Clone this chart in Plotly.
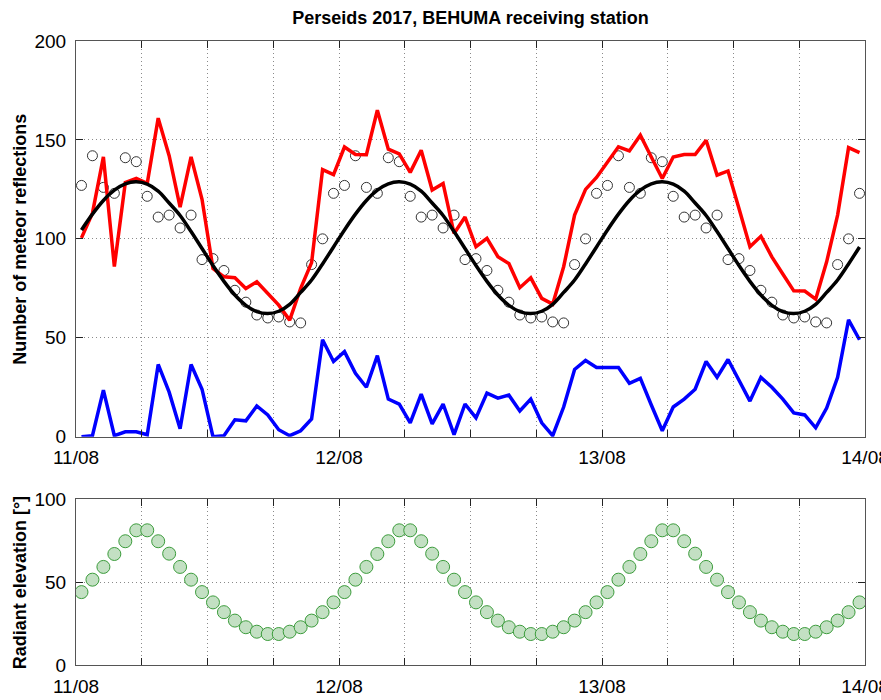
import pandas as pd
import plotly.graph_objects as go

# hourly bins (centre of each hour), 11/08 00:30 -> 13/08 23:30
times = pd.date_range("2017-08-11 00:30", periods=72, freq="h")

tick_times = pd.date_range("2017-08-11 00:00", "2017-08-14 00:00", freq="6h")
day_labels = {"2017-08-11": "11/08", "2017-08-12": "12/08", "2017-08-13": "13/08", "2017-08-14": "14/08"}

total_counts = [100.5, 113, 141.4, 86, 128.5, 130.5, 128, 161, 142, 116, 141.4, 120,
                85, 80.8, 80.3, 74.9, 78.3, 72.4, 66.5, 58.9, 75, 88, 135, 132.5,
                146.4, 142.6, 142.5, 165, 145.3, 143, 133.6, 144.8, 124.7, 128, 102.7, 111,
                96, 100.2, 91, 87.5, 75.3, 80.3, 69.9, 67, 85.9, 112, 125, 131,
                139, 146.5, 144.4, 152.4, 141.4, 130.5, 141.4, 142.6, 142.6, 149.8, 132.2, 134.3,
                115.3, 96, 101.3, 90.9, 82.2, 73.7, 73.6, 69.5, 88.4, 112, 146.1, 143.6]

excess_counts = [0, 0.5, 23.5, 0.5, 2.5, 2.5, 1, 36.5, 22.5, 4, 36.5, 24,
                 0, 0.5, 8.5, 8, 15.5, 11, 3.5, 0.5, 3, 9, 49, 38,
                 43, 32, 25, 41, 19, 16.5, 7, 21.5, 6.5, 16.5, 1, 16.5,
                 9.5, 22, 19.5, 21, 13, 19, 7, 0.5, 15, 34, 38.5, 35,
                 35, 35, 27, 29.5, 16, 3, 15, 19, 24, 38, 30, 39,
                 28.5, 18, 30, 25, 19, 12, 11, 4.5, 14.5, 30, 59, 49]

background_counts = [127, 142, 126, 123, 141, 139, 121.5, 111, 112, 105.5, 112, 89.5,
                     90, 84, 74, 68, 61.5, 60, 60.5, 58, 57.5, 87, 100, 123,
                     127, 142, 126, 123, 141, 139, 121.5, 111, 112, 105.5, 112, 89.5,
                     90, 84, 74, 68, 61.5, 60, 60.5, 58, 57.5, 87, 100, 123,
                     127, 142, 126, 123, 141, 139, 121.5, 111, 112, 105.5, 112, 89.5,
                     90, 84, 74, 68, 61.5, 60, 60.5, 58, 57.5, 87, 100, 123]

fitted_background = [104.5, 112.5, 119.4, 124.6, 127.8, 128.8, 127.6, 124.1, 118.1, 111.8, 103.7, 95.1,
                     86.5, 78.5, 71.6, 66.4, 63.2, 62.2, 63.4, 66.9, 72.9, 79.2, 87.3, 95.9,
                     104.5, 112.5, 119.4, 124.6, 127.8, 128.8, 127.6, 124.1, 118.1, 111.8, 103.7, 95.1,
                     86.5, 78.5, 71.6, 66.4, 63.2, 62.2, 63.4, 66.9, 72.9, 79.2, 87.3, 95.9,
                     104.5, 112.5, 119.4, 124.6, 127.8, 128.8, 127.6, 124.1, 118.1, 111.8, 103.7, 95.1,
                     86.5, 78.5, 71.6, 66.4, 63.2, 62.2, 63.4, 66.9, 72.9, 79.2, 87.3, 95.9]

radiant_elevation = [44, 51.5, 59.2, 67, 74.7, 81.3, 81.3, 74.7, 67.2, 59.2, 51.5, 44,
                     37.8, 31.9, 26.8, 22.8, 20.1, 18.7, 18.7, 20.1, 22.8, 26.8, 31.9, 37.8,
                     44, 51.5, 59.2, 67, 74.7, 81.3, 81.3, 74.7, 67.2, 59.2, 51.5, 44,
                     37.8, 31.9, 26.8, 22.8, 20.1, 18.7, 18.7, 20.1, 22.8, 26.8, 31.9, 37.8,
                     44, 51.5, 59.2, 67, 74.7, 81.3, 81.3, 74.7, 67.2, 59.2, 51.5, 44,
                     37.8, 31.9, 26.8, 22.8, 20.1, 18.7, 18.7, 20.1, 22.8, 26.8, 31.9, 37.8]

top_yticks = [0, 50, 100, 150, 200]
bottom_yticks = [0, 50, 100]

FONT = "Liberation Sans, Arial, sans-serif"
tickvals = list(tick_times)
ticktext = [day_labels.get(t.strftime("%Y-%m-%d"), "") if t.hour == 0 else "" for t in tick_times]

fig = go.Figure()
fig.add_trace(go.Scatter(x=times, y=background_counts, mode="markers",
                         marker=dict(symbol="circle-open", size=10, color="#333333", line=dict(width=1)),
                         xaxis="x", yaxis="y", showlegend=False))
fig.add_trace(go.Scatter(x=times, y=total_counts, mode="lines",
                         line=dict(color="#ff0000", width=3.5), xaxis="x", yaxis="y", showlegend=False))
fig.add_trace(go.Scatter(x=times, y=excess_counts, mode="lines",
                         line=dict(color="#0000ff", width=3.5), xaxis="x", yaxis="y", showlegend=False))
fig.add_trace(go.Scatter(x=times, y=fitted_background, mode="lines",
                         line=dict(color="#000000", width=3.5, shape="spline"),
                         xaxis="x", yaxis="y", showlegend=False))
fig.add_trace(go.Scatter(x=times, y=radiant_elevation, mode="markers",
                         marker=dict(symbol="circle", size=13, color="#c3e0c3",
                                     line=dict(color="#3c9c3c", width=1)),
                         xaxis="x2", yaxis="y2", showlegend=False))

GRID = dict(showgrid=True, gridcolor="#8a8a8a", griddash="1px,3px", gridwidth=1)
xcommon = dict(type="date", range=["2017-08-11 00:00", "2017-08-14 00:00"],
               tickmode="array", tickvals=tickvals, ticktext=ticktext,
               ticks="inside", ticklen=7, tickcolor="#222222", tickwidth=1,
               showline=True, linecolor="#555555", linewidth=1, mirror="ticks",
               zeroline=False, tickfont=dict(family=FONT, size=19, color="#000000"),
               ticklabelstandoff=4, ticklabeloverflow="allow", **GRID)
ycommon = dict(ticks="inside", ticklen=7, tickcolor="#222222", tickwidth=1,
               showline=True, linecolor="#555555", linewidth=1, mirror="ticks",
               zeroline=False, tickfont=dict(family=FONT, size=19, color="#000000"),
               tickmode="array", ticklabelstandoff=5, **GRID)

fig.update_layout(
    width=881, height=700,
    margin=dict(l=76, r=16, t=41, b=35, autoexpand=False),
    paper_bgcolor="white", plot_bgcolor="white",
    xaxis=dict(domain=[0, 1], anchor="y", **xcommon),
    yaxis=dict(domain=[0.3659, 1], anchor="x", range=[0, 200], tickvals=top_yticks, **ycommon),
    xaxis2=dict(domain=[0, 1], anchor="y2", **xcommon),
    yaxis2=dict(domain=[0, 0.2655], anchor="x2", range=[0, 100], tickvals=bottom_yticks, **ycommon),
    title=dict(text="<b>Perseids 2017, BEHUMA receiving station</b>",
               font=dict(family=FONT, size=18, color="#000000"),
               x=0.5, xref="paper", xanchor="center",
               y=1 - 18 / 700, yref="container", yanchor="middle"),
    annotations=[
        dict(text="<b>Number of meteor reflections</b>", textangle=-90,
             xref="paper", yref="paper", x=-0.071, y=(0.3659 + 1) / 2,
             xanchor="center", yanchor="middle", showarrow=False,
             font=dict(family=FONT, size=18, color="#000000")),
        dict(text="<b>Radiant elevation [°]</b>", textangle=-90,
             xref="paper", yref="paper", x=-0.071, y=0.2655 / 2,
             xanchor="center", yanchor="middle", showarrow=False,
             font=dict(family=FONT, size=18, color="#000000")),
    ],
)

fig.write_html("out.html")
